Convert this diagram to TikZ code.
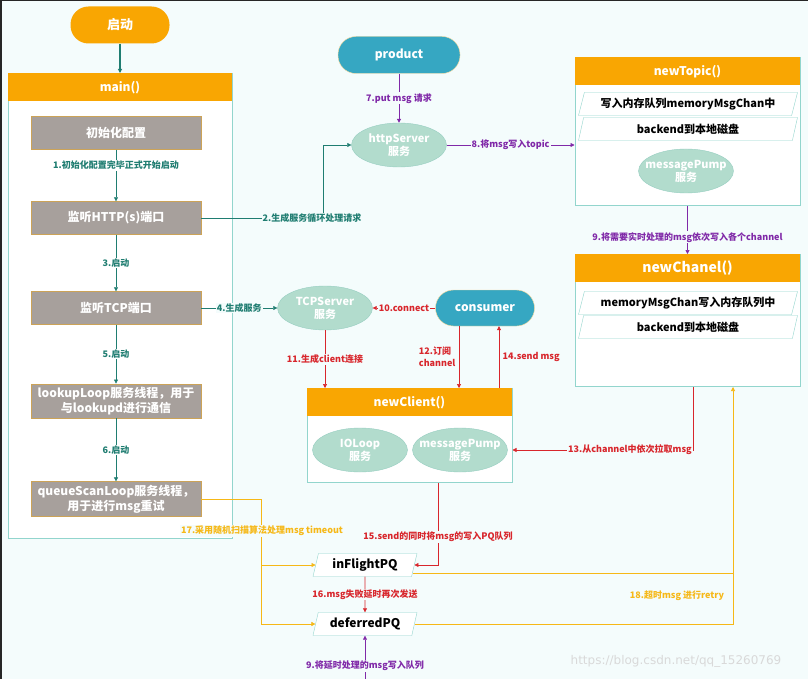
\documentclass[tikz,border=0pt]{standalone}
\usepackage{fontspec}
\setmainfont{Noto Sans CJK SC}
\newfontfamily\wmfont{DejaVu Sans}
\usetikzlibrary{shapes.geometric, arrows.meta, positioning, calc}
\definecolor{bgCyan}{HTML}{F4FCFC}
\definecolor{hdOrange}{HTML}{F9A602}
\definecolor{lnTeal}{HTML}{1F7D71}
\definecolor{frTeal}{HTML}{92D5CD}
\definecolor{boxGray}{HTML}{A7A09C}
\definecolor{svGreen}{HTML}{B2DCCD}
\definecolor{pillBlue}{HTML}{36A7C2}
\definecolor{msgPurple}{HTML}{8029A8}
\definecolor{cliRed}{HTML}{D8262C}
\definecolor{pqYellow}{HTML}{F6B817}
% two centred lines that do not widen an ellipse
\newcommand{\svlines}[2]{\makebox[0pt]{#1}\\\makebox[0pt]{#2}}

\begin{document}
\begin{tikzpicture}[x=1pt, y=-1pt,
  every node/.style={font=\fontsize{9}{11}\selectfont},
  pill/.style={rounded corners=18pt, draw=hdOrange!40, fill=pillBlue, text=white,
    minimum width=122, minimum height=37, font=\fontsize{12}{14}\selectfont\bfseries},
  cfg/.style={draw=hdOrange!45!boxGray, fill=boxGray, text=white, minimum width=170,
    minimum height=33, align=center, font=\fontsize{12}{15}\selectfont\bfseries},
  frame/.style={draw=frTeal, fill=white, line width=1pt},
  hdr/.style={fill=hdOrange, text=white, minimum height=28,
    font=\fontsize{12}{14}\selectfont\bfseries},
  svc/.style={ellipse, draw=svGreen!85!teal, fill=svGreen, text=white, minimum width=95,
    minimum height=44, inner sep=0pt, align=center, font=\fontsize{11}{13}\selectfont\bfseries},
  que/.style={trapezium, trapezium left angle=64, trapezium right angle=116,
    trapezium stretches body=true, draw=frTeal, fill=white, minimum width=219,
    minimum height=23, inner sep=0pt, font=\fontsize{11}{13}\selectfont\bfseries},
  pq/.style={trapezium, trapezium left angle=67, trapezium right angle=113,
    trapezium stretches body=true, draw=frTeal, fill=white, minimum width=104,
    minimum height=23, inner sep=0pt, font=\fontsize{12}{14}\selectfont\bfseries},
  tarr/.style={-{Triangle[length=4pt, width=4pt]}, lnTeal, line width=0.6pt},
  parr/.style={-{Triangle[length=4pt, width=4pt]}, msgPurple, line width=0.6pt},
  rarr/.style={-{Triangle[length=4pt, width=4pt]}, cliRed, line width=0.6pt},
  yarr/.style={-{Triangle[length=4pt, width=4pt]}, pqYellow, line width=0.6pt},
  lbl/.style={fill=bgCyan, inner sep=1pt, font=\fontsize{9}{11}\selectfont\bfseries},
]
  % page
  \path[use as bounding box] (0,0) rectangle (808,679);
  \fill[bgCyan] (0,0) rectangle (808,679);
  \draw[black!85, line width=3pt] (0,679) -- (0,0) -- (808,0);

  % main() column
  \node[pill, fill=hdOrange, draw=none, minimum width=99, font=\fontsize{13}{15}\selectfont\bfseries] (start) at (120,25) {启动};
  \node[frame, minimum width=224, minimum height=465, anchor=north] (mainbox) at (120,73) {};
  \node[hdr, minimum width=224, anchor=north] (mainhd) at (mainbox.north) {main()};
  \node[cfg] (init) at (116,133) {初始化配置};
  \node[cfg] (http) at (116,218) {监听HTTP(s)端口};
  \node[cfg] (tcp) at (116,308) {监听TCP端口};
  \node[cfg] (lookup) at (116,401) {lookupLoop服务线程，用于\\与lookupd进行通信};
  \node[cfg] (qscan) at (116,499) {queueScanLoop服务线程，\\用于进行msg重试};

  % producer side
  \node[pill] (product) at (399,55) {product};
  \node[svc] (httpsv) at (399,145) {\svlines{httpServer}{服务}};
  \node[frame, minimum width=225, minimum height=148, anchor=north] (topic) at (687.5,57) {};
  \node[hdr, minimum width=225, anchor=north] (topichd) at (topic.north) {newTopic()};
  \node[que] (tmem) at (688,104) {写入内存队列memoryMsgChan中};
  \node[que] (tdisk) at (688,129) {backend到本地磁盘};
  \node[svc] (tpump) at (686,171) {\svlines{messagePump}{服务}};
  \node[frame, minimum width=225, minimum height=132, anchor=north] (chan) at (687.5,254) {};
  \node[hdr, minimum width=225, anchor=north, font=\fontsize{14}{16}\selectfont\bfseries] (chanhd) at (chan.north) {newChanel()};
  \node[que] (cmem) at (688,303) {memoryMsgChan写入内存队列中};
  \node[que] (cdisk) at (688,327) {backend到本地磁盘};

  % consumer side
  \node[svc] (tcpsv) at (325,308) {\svlines{TCPServer}{服务}};
  \node[pill, minimum width=99, minimum height=36] (consumer) at (485,308) {consumer};
  \node[frame, minimum width=205, minimum height=94, anchor=north] (client) at (409.5,388) {};
  \node[hdr, minimum width=205, anchor=north] (clienthd) at (client.north) {newClient()};
  \node[svc] (ioloop) at (360,450) {\svlines{IOLoop}{服务}};
  \node[svc] (cpump) at (460,450) {\svlines{messagePump}{服务}};
  \node[pq] (inflight) at (365,565) {inFlightPQ};
  \node[pq] (deferred) at (365,624) {deferredPQ};
  \coordinate (qin) at (365,679);
  \coordinate (yturn) at (261,499);
  \coordinate (retry) at ([xshift=45.5pt]chan.south |- deferred.east);
  \coordinate (flyout) at ($(inflight.bottom right corner)!0.15!(inflight.top right corner)$);

  % main() flow
  \draw[tarr, line width=1.4pt] (start) -- (mainhd);
  \draw[tarr] (init) -- node[lbl, fill=white, text=lnTeal, pos=0.3] {1.初始化配置完毕正式开始启动} (http);
  \draw[tarr] (http) -- node[lbl, fill=white, text=lnTeal] {3.启动} (tcp);
  \draw[tarr] (tcp) -- node[lbl, fill=white, text=lnTeal] {5.启动} (lookup);
  \draw[tarr] (lookup) -- node[lbl, fill=white, text=lnTeal] {6.启动} (qscan);
  \draw[tarr] (http.east) -- ++(122,0) |- (httpsv.west);
  \node[lbl, text=lnTeal] (l2) at (312,218) {2.生成服务循环处理请求};
  \draw[tarr] (tcp) -- node[lbl, text=lnTeal] {4.生成服务} (tcpsv);

  % messages in
  \draw[parr, line width=1pt] (product) -- node[lbl, text=msgPurple] {7.put msg 请求} (httpsv);
  \draw[parr] (httpsv) -- node[lbl, text=msgPurple] {8.将msg写入topic} (topic.west |- httpsv);
  \draw[parr] (topic.south) -- node[lbl, text=msgPurple, pos=0.65] {9.将需要实时处理的msg依次写入各个channel} (chan.north);
  \draw[parr] (qin) -- node[lbl, text=msgPurple, pos=0.3] {9.将延时处理的msg写入队列} (deferred);

  % client
  \draw[rarr] (consumer) -- node[lbl, text=cliRed] {10.connect} (tcpsv);
  \draw[rarr] (tcpsv) -- node[lbl, text=cliRed] {11.生成client连接} (tcpsv |- client.north);
  \draw[rarr] ([xshift=-26pt]consumer.south) -- node[left, align=left, text=cliRed, font=\fontsize{9}{12}\selectfont\bfseries] {12.订阅\\channel} ([xshift=-26pt]consumer.south |- client.north);
  \draw[rarr] ([xshift=14pt]consumer.south |- client.north) -- node[right, text=cliRed, font=\fontsize{9}{11}\selectfont\bfseries] {14.send msg} ([xshift=14pt]consumer.south);
  \draw[rarr] ([xshift=5.5pt]chan.south) |- node[lbl, text=cliRed, anchor=east, pos=0.5] {13.从channel中依次拉取msg} (cpump.east -| client.east);
  \draw[rarr] ([xshift=28.5pt]client.south) |- node[lbl, text=cliRed, pos=0.33] {15.send的同时将msg的写入PQ队列} (inflight.east);
  \draw[rarr] (inflight) -- node[lbl, text=cliRed] {16.msg失败延时再次发送} (deferred);

  % timeout scan
  \draw[yarr] (qscan.east) -- (yturn) |- (inflight.west);
  \draw[yarr] (yturn) |- (deferred.west);
  \node[lbl, text=pqYellow] (l17) at (262,531) {17.采用随机扫描算法处理msg timeout};
  \draw[yarr] (deferred.east) -- (retry) -- ([xshift=45.5pt]chan.south);
  \draw[pqYellow, line width=0.6pt] (flyout) -- (flyout -| retry);
  \node[lbl, text=pqYellow] (l18) at (677,596) {18.超时msg 进行retry};

  \node[text=gray!30, font=\wmfont\fontsize{12}{14}\selectfont] (wm) at (676,661) {https://blog.csdn.net/qq\_15260769};
\end{tikzpicture}
\end{document}
